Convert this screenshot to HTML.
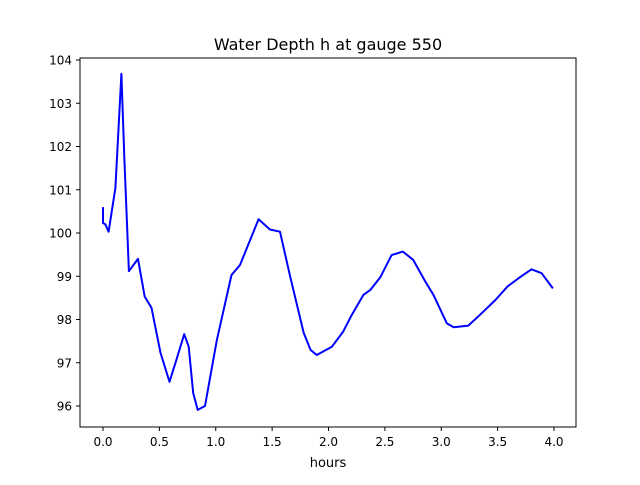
<!DOCTYPE html>
<html><head><meta charset="utf-8"><style>
body{margin:0;background:#fff}
svg text{font-family:"DejaVu Sans","Liberation Sans",sans-serif;fill:#000}
</style></head><body>
<svg width="640" height="480">
<rect width="640" height="480" fill="#fff"/>
<text x="328" y="50" font-size="16" text-anchor="middle">Water Depth h at gauge 550</text>
<g id="ticks"></g>
<path id="line" fill="none" stroke="#0000ff" stroke-width="2" stroke-linejoin="round"/>
<rect x="80" y="58" width="496" height="369" fill="none" stroke="#000" stroke-width="1"/>
<text x="328" y="467" font-size="13" text-anchor="middle">hours</text>
</svg>
<script>
const hours=[0,0,0.02,0.05,0.11,0.163,0.19,0.23,0.31,0.37,0.43,0.51,0.59,0.65,0.72,0.76,0.80,0.84,0.905,1.01,1.14,1.215,1.38,1.48,1.57,1.66,1.78,1.84,1.895,2.03,2.13,2.205,2.31,2.37,2.46,2.56,2.66,2.75,2.86,2.93,3.05,3.11,3.24,3.34,3.48,3.59,3.70,3.80,3.89,3.99];
const depth=[100.6,100.23,100.2,100.03,101.04,103.68,101.7,99.12,99.4,98.53,98.27,97.23,96.56,97.06,97.66,97.37,96.3,95.91,96.0,97.53,99.03,99.26,100.32,100.08,100.03,98.99,97.69,97.3,97.18,97.37,97.72,98.1,98.57,98.68,98.98,99.49,99.57,99.38,98.87,98.57,97.91,97.82,97.86,98.1,98.45,98.77,98.98,99.16,99.07,98.72];
const xTicks=[0,0.5,1,1.5,2,2.5,3,3.5,4];
const xTickLabels=["0.0","0.5","1.0","1.5","2.0","2.5","3.0","3.5","4.0"];
const yTicks=[96,97,98,99,100,101,102,103,104];
const X=v=>103+v*112.75;
const Y=v=>406-(v-96)*43.25;
const ns="http://www.w3.org/2000/svg";
const g=document.getElementById('ticks');
xTicks.forEach((t,i)=>{
 const l=document.createElementNS(ns,'line');
 l.setAttribute('x1',X(t));l.setAttribute('x2',X(t));l.setAttribute('y1',427);l.setAttribute('y2',431);l.setAttribute('stroke','#000');
 
 
 g.appendChild(l);
 const tx=document.createElementNS(ns,'text');
 tx.setAttribute('x',X(t));tx.setAttribute('y',446);tx.setAttribute('font-size','12');tx.setAttribute('text-anchor','middle');
 tx.textContent=xTickLabels[i];
 
 
 g.appendChild(tx);
});
yTicks.forEach(t=>{
 const l=document.createElementNS(ns,'line');
 l.setAttribute('x1',76);l.setAttribute('x2',80);l.setAttribute('y1',Y(t));l.setAttribute('y2',Y(t));l.setAttribute('stroke','#000');
 
 
 g.appendChild(l);
 const tx=document.createElementNS(ns,'text');
 tx.setAttribute('x',72);tx.setAttribute('y',Y(t)+4.5);tx.setAttribute('font-size','12');tx.setAttribute('text-anchor','end');
 tx.textContent=t;
 
 
 g.appendChild(tx);
});
document.getElementById('line').setAttribute('d',hours.map((h,i)=>(i?'L':'M')+X(h).toFixed(1)+','+Y(depth[i]).toFixed(1)).join(''));
</script>
</body></html>
